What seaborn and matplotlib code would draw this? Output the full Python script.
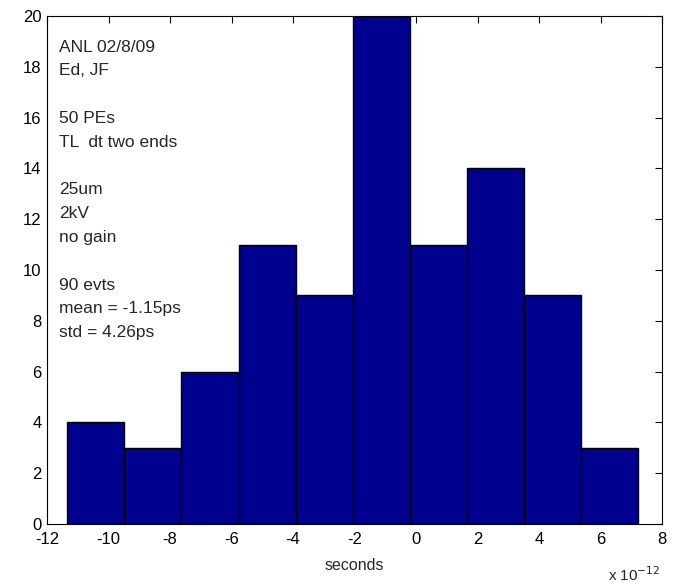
import numpy as np
import pandas as pd
import matplotlib
matplotlib.use("Agg")
import matplotlib.pyplot as plt
import seaborn as sns

# histogram (x in units of 1e-12 s)
bin_edges = [-11.34, -9.48, -7.63, -5.77, -3.91, -2.06, -0.20, 1.66, 3.51, 5.37, 7.23]
counts = [4, 3, 6, 11, 9, 20, 11, 14, 9, 3]
info_lines = ["ANL 02/8/09", "Ed, JF", "", "50 PEs", "TL  dt two ends", "",
              "25um", "2kV", "no gain", "", "90 evts", "mean = -1.15ps", "std = 4.26ps"]

centers = [(a + b) / 2 for a, b in zip(bin_edges[:-1], bin_edges[1:])]
df = pd.DataFrame({"t": centers, "n": counts})

sns.set_style("white")
plt.rcParams["font.family"] = ["Liberation Sans", "DejaVu Sans"]
plt.rcParams["axes.unicode_minus"] = False

fig = plt.figure(figsize=(6.77, 5.86), dpi=100)
ax = fig.add_axes([47 / 677, 1 - 524 / 586, 615 / 677, 508 / 586])

sns.histplot(data=df, x="t", weights="n", bins=bin_edges, ax=ax,
             color="#00008F", edgecolor="black", linewidth=1, alpha=1)

ax.set_xlim(-12, 8)
ax.set_ylim(0, 20)
ax.set_xticks(np.arange(-12, 9, 2))
ax.set_yticks(np.arange(0, 21, 2))
ax.tick_params(direction="in", length=5, width=0.8, top=True, right=True,
               labelsize=12, colors="black")
ax.tick_params(axis="x", pad=6)
ax.tick_params(axis="y", pad=4)
for s in ax.spines.values():
    s.set_color("black")
    s.set_linewidth(0.8)
ax.set_xlabel("seconds", fontsize=11.5, labelpad=8)
ax.set_ylabel("")
ax.text(0.997, -0.112, r"x 10$^{-12}$", transform=ax.transAxes,
        ha="right", va="baseline", fontsize=11)

# annotation block, one line every ~23.8 px
for i, line in enumerate(info_lines):
    if not line:
        continue
    ypx = 47 + 23.8 * i
    ax.text(0.0195, (524 - ypx) / 508, line, transform=ax.transAxes,
            ha="left", va="center", fontsize=12.5)

fig.savefig("out.png", dpi=100)
